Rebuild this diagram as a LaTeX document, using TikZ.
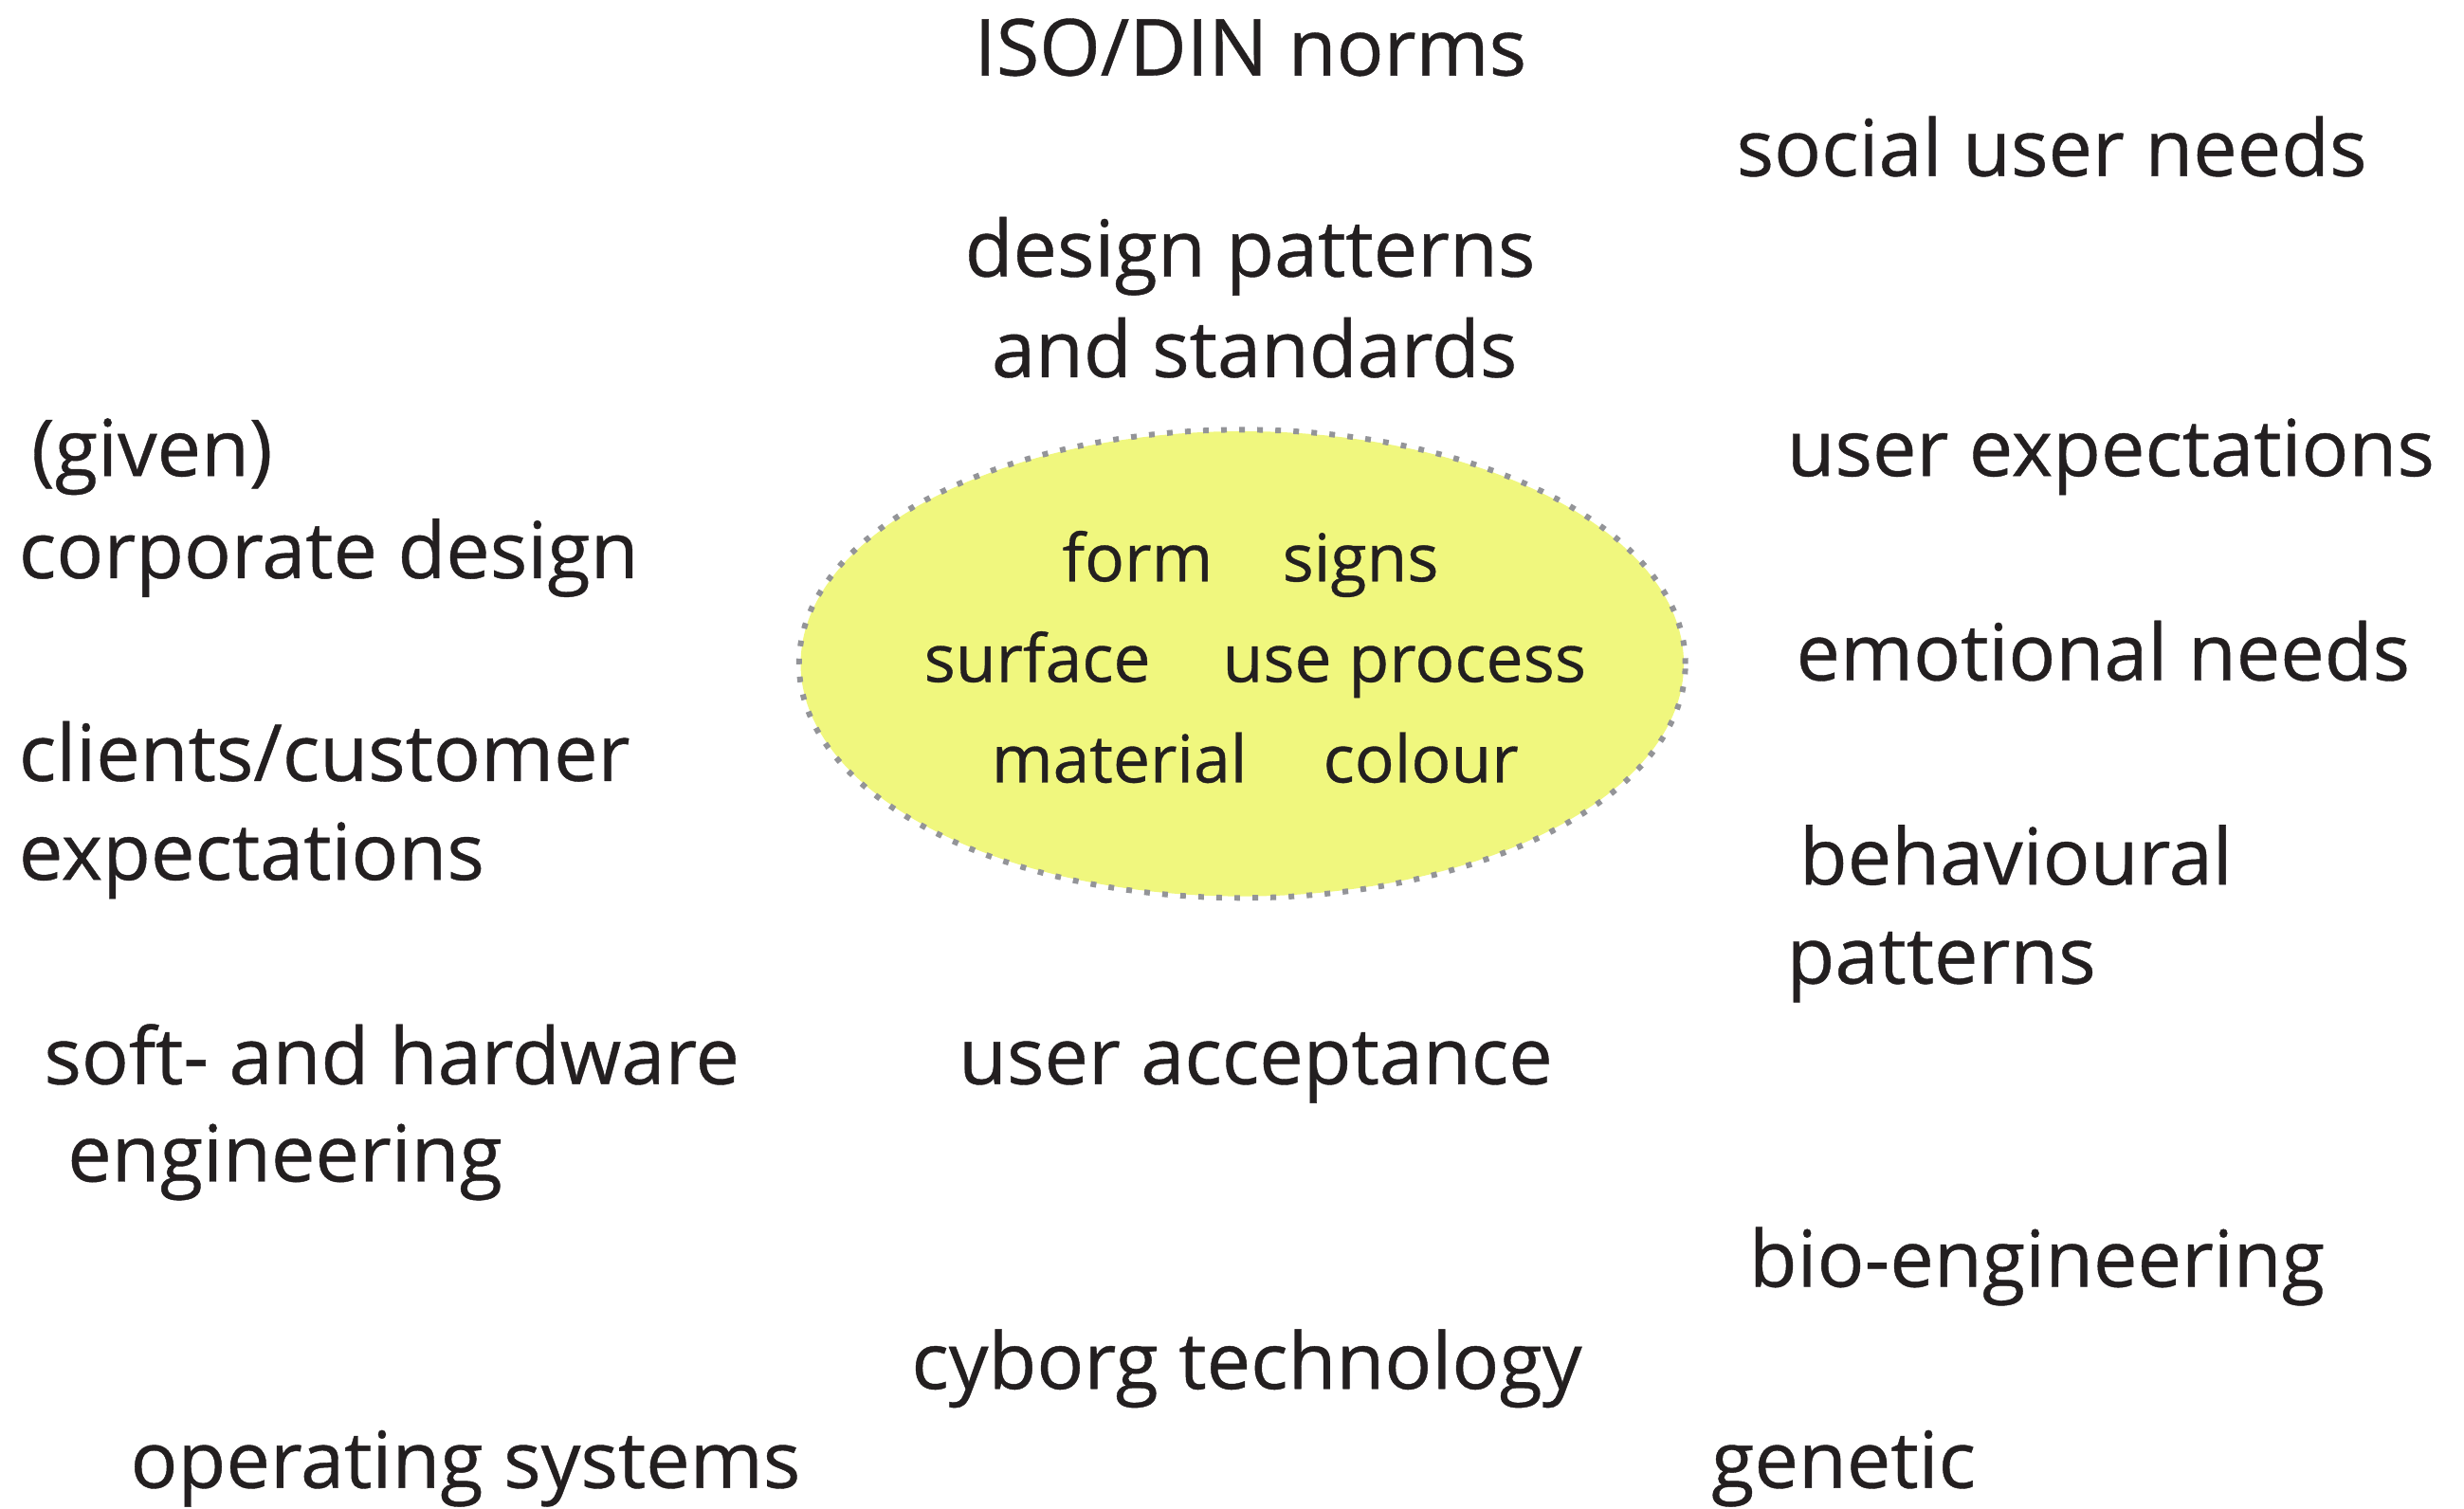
\documentclass[tikz,border=0pt]{standalone}
\usepackage{fontspec}
\setmainfont{Open Sans}[FakeBold=0.5]
\usetikzlibrary{shapes.geometric}
\definecolor{inktext}{RGB}{35,31,32}
\definecolor{corefill}{RGB}{240,247,126}
\definecolor{coreline}{RGB}{147,148,152}
\tikzset{
  outer/.style={anchor=base west, inner sep=0pt, outer sep=0pt, text=inktext,
    font=\fontsize{50}{60}\selectfont},
  inner/.style={anchor=base west, inner sep=0pt, outer sep=0pt, text=inktext,
    font=\fontsize{42}{50}\selectfont},
  core/.style={ellipse, fill=corefill, inner sep=0pt,
    minimum width=562pt, minimum height=296pt},
  coreborder/.style={draw=coreline, line width=3.6pt,
    dash pattern=on 3.6pt off 7.9pt}
}
\begin{document}
\begin{tikzpicture}[x=1pt,y=-1pt]
\useasboundingbox (0,0) rectangle (1568,960);

% central field of design elements
\node[core] (core) at (790.5,422.5) {};
\draw[coreborder] (core.center) ellipse [x radius=282pt, y radius=149pt];
\node[inner] (form)    at (676,370) {form};
\node[inner] (signs)   at (816,370) {signs};
\node[inner] (surface) at (588,434) {surface};
\node[inner] (useproc) at (778,434) {use process};
\node[inner] (material) at (631,498) {material};
\node[inner] (colour)  at (842,498) {colour};

% top
\node[outer] (iso)     at (620,48)  {ISO/DIN norms};
\node[outer] (design1) at (614,176) {design patterns};
\node[outer] (design2) at (631,240) {and standards};

% left side
\node[outer] (given)   at (20,303)  {(given)};
\node[outer] (corp)    at (12,368)  {corporate design};
\node[outer] (client1) at (12,497)  {clients/customer};
\node[outer] (client2) at (12,560)  {expectations};
\node[outer] (soft1)   at (28,690)  {soft- and hardware};
\node[outer] (soft2)   at (43,752)  {engineering};
\node[outer] (os)      at (83,947)  {operating systems};

% bottom centre
\node[outer] (accept)  at (610,690) {user acceptance};
\node[outer] (cyborg)  at (580,884) {cyborg technology};

% right side
\node[outer] (social)  at (1105,112) {social user needs};
\node[outer] (userexp) at (1137,303) {user expectations};
\node[outer] (emo)     at (1143,433) {emotional needs};
\node[outer] (behav1)  at (1145,563) {behavioural};
\node[outer] (behav2)  at (1137,626) {patterns};
\node[outer] (bio)     at (1113,819) {bio-engineering};
\node[outer] (genetic) at (1089,947) {genetic};
\end{tikzpicture}
\end{document}
